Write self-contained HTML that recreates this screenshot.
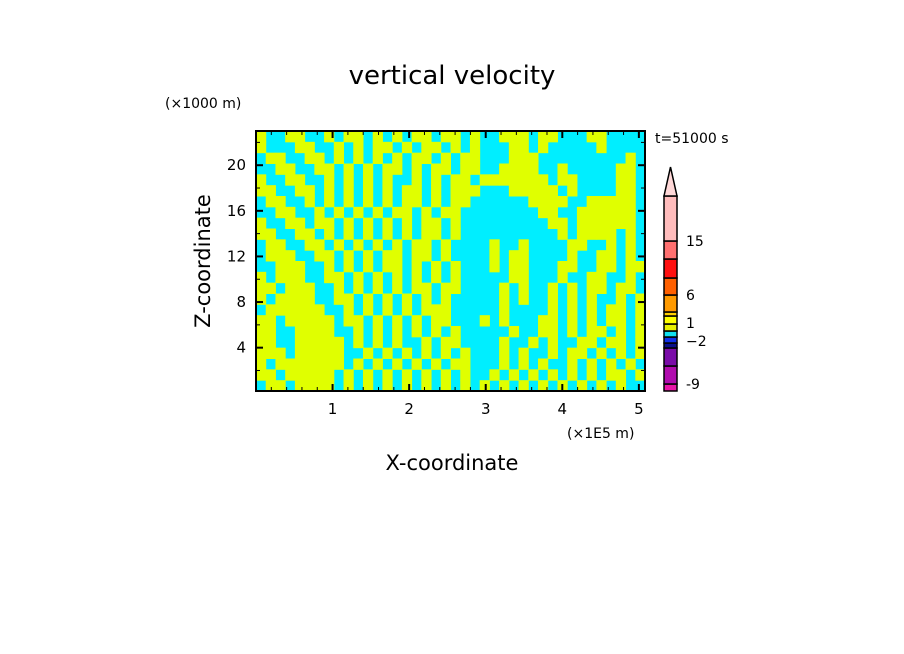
<!DOCTYPE html>
<html><head><meta charset="utf-8"><style>
html,body{margin:0;padding:0;background:#fff;width:904px;height:654px;overflow:hidden}
svg text{font-family:"DejaVu Sans","Liberation Sans",sans-serif;fill:#000}
</style></head><body>
<svg id="c" width="904" height="654"></svg>
<script>
const rowsData=[
"YCCYYCCYCYYCYCYCYYCYYCYCCYYYCYYCCCYYCCCC",
"YCCCYYCCYCYCYYCYCYYCYCYCCCYYCYCCCCCYCCCC",
"CYYCCYYCYCYCYCYCYYCYCYYCCCYYYCCCCCCCCCYC",
"CCYYCCYYCYCYCYYCYCYYCYYCCYYYYCCYCCCCCYYC",
"YCCYYCCYCYCYCYCCYCYCYYCYYYYYYYCYYCCCCYYC",
"YYCCYYCYCYCYCYCYYCYCYYYCCCYYYYYCYCCCCYYC",
"CYYCCYCYCYCYCYCYYCYCYYCCCCCCYYYYCCYYYYYC",
"CCYYCCYCYCYCYCYYCYCYYCCCCCCCCYYCCYYYYYYC",
"YCCYYCYYCYCYCYCYCYYCYCCCCCCCCCYYCYYYYYYC",
"YYCCYYCYCYCYCYCYCYYCYCCCCCCCCCCYCYYYYCYC",
"CYYCCYYCYCYCYCYCYYCYCCCCYCCYCCCCYYCCYCYC",
"CYYYCCYYCYCYCYYCYYCYCCCCYCYYCCCCYCCYYCYC",
"CCYYYCCYCYCYCYYCYCYCYCCCYCYYCCCYYCCYYCYY",
"YCYYYCCYYCYCYCYCYCYCYCCCCCYYCCCYCCYYCCYC",
"YYCYYYCCYCYCYCYCYYCYYCCCCYCYCCYCYCYYCYYC",
"YCYYYYCCYYCYCYCYCYCYCCCCCYCYCCYCYCYCCYCY",
"CYYYYYYCCYCYCYCYCYYYCCCCCYCCCCYCYCYCYYCY",
"YYCYYYYYCYYCYCYCYCYYCCCYCYCCCYYCYCYCYYCY",
"YYCCYYYYCCYCYCYCYCYCYCCCCCYCCYYCYCYYCYCY",
"YYCCYYYYYCYCYCYCCYCYYCCCCYCCYCYCCYYCYYCY",
"YYYCYYYYYCCYCYCYCYCYCYCCCYCYCCYCYYCYCYCY",
"YCYYYYYYYCYCYCYCYCYCYYCCCYCYCYCCYCYCYCYC",
"YYCYYYYYCYCYCYCYCYCYCYCCYCYCYCYCYCYCYYCY",
"CYYCYYYYCYCYCYCYCYCYCYCYCYCYCYCYCYCYCYCC"];
const xTicks=[1,2,3,4,5];
const yTicks=[4,8,12,16,20];
const cbColors=["#e815a8","#b00cae","#7a0ca8","#0a108a","#1030e8","#10e0f0","#e8f000","#ffff00","#ffd000","#ff9a00","#ff6000","#ff1010","#ff7070","#ffbcbc"];
const cbBounds=[391,384,366,348,343,337,331,324,316,312,295,278,259,241,196];
const cbLabels=["-9","−2","1","6","15"];
const cbLabelY=[384,341,323,295,241];
const NS="http://www.w3.org/2000/svg";
const svg=document.getElementById('c');
function el(t,a,p){const e=document.createElementNS(NS,t);for(const k in a)e.setAttribute(k,a[k]);(p||svg).appendChild(e);return e;}
const X0=256,X1=645,Y0=131,Y1=391,xmin=0,xmax=5.08,ymin=0.2,ymax=23;
const sx=v=>X0+(v-xmin)/(xmax-xmin)*(X1-X0);
const sy=v=>Y1-(v-ymin)/(ymax-ymin)*(Y1-Y0);
const g=el('g',{});


el('rect',{x:X0,y:Y0,width:X1-X0,height:Y1-Y0,fill:'#00eeff'},g);
const nr=rowsData.length;
rowsData.forEach((r,i)=>{const nc=r.length,cw=(X1-X0)/nc,ch=(Y1-Y0)/nr;
 for(let j=0;j<nc;j++){if(r[j]==='Y'){const c=el('rect',{x:X0+j*cw,y:Y0+i*ch,width:cw+0.5,height:ch+0.5,fill:'#e0ff00'},g);
 
 }}});
const fr=el('rect',{x:X0,y:Y0,width:X1-X0,height:Y1-Y0,fill:'none',stroke:'#000','stroke-width':2});


// ticks
for(let v=0.2;v<=5.05;v+=0.2){const major=Math.abs(v-Math.round(v))<0.01;const L=major?7:4;const x=sx(v);
 el('line',{x1:x,x2:x,y1:Y1,y2:Y1-L,stroke:'#000','stroke-width':major?2:1});
 el('line',{x1:x,x2:x,y1:Y0,y2:Y0+L,stroke:'#000','stroke-width':major?2:1});}
for(let v=2;v<=22;v+=2){const major=v%4===0;const L=major?7:4;const y=sy(v);
 el('line',{x1:X0,x2:X0+L,y1:y,y2:y,stroke:'#000','stroke-width':major?2:1});
 el('line',{x1:X1,x2:X1-L,y1:y,y2:y,stroke:'#000','stroke-width':major?2:1});}
xTicks.forEach(v=>{const t=el('text',{x:sx(v),y:414,'font-size':15,'text-anchor':'middle'});t.textContent=v;
 
 });
yTicks.forEach(v=>{const t=el('text',{x:246,y:sy(v)+5,'font-size':15,'text-anchor':'end'});t.textContent=v;
 
 });
function txt(s,a,name){const t=el('text',a);t.textContent=s;return t;}
txt('vertical velocity',{x:452,y:84,'font-size':26,'text-anchor':'middle'},'chart-title');
txt('(×1000 m)',{x:165,y:108,'font-size':14},'y-axis-unit');
txt('(×1E5 m)',{x:567,y:438,'font-size':14},'x-axis-unit');
txt('X-coordinate',{x:452,y:470,'font-size':21,'text-anchor':'middle'},'x-axis-title');
txt('Z-coordinate',{x:210,y:261,'font-size':21,'text-anchor':'middle',transform:'rotate(-90 210 261)'},'y-axis-title');
txt('t=51000 s',{x:655,y:143,'font-size':14},'time-label');
// colorbar
const cb=el('g',{});


cbColors.forEach((c,i)=>{const r=el('rect',{x:664,y:cbBounds[i+1],width:13,height:cbBounds[i]-cbBounds[i+1],fill:c,stroke:'#000','stroke-width':1.5},cb);
 
 });
el('polygon',{points:'664,196 677,196 670.5,167',fill:'#ffd8d8',stroke:'#000','stroke-width':1.5},cb);
cbLabels.forEach((s,i)=>{const t=el('text',{x:686,y:cbLabelY[i]+5,'font-size':14},cb);t.textContent=s;
 
 });
</script>
</body></html>
